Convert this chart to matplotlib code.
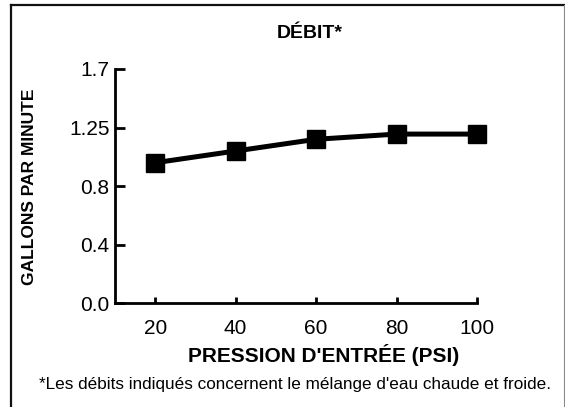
import numpy as np
import matplotlib
matplotlib.use("Agg")
import matplotlib.pyplot as plt
from matplotlib.lines import Line2D

# ---- data ----
pressure_psi = [20, 40, 60, 80, 100]
flow_gpm = [0.98, 1.07, 1.16, 1.20, 1.20]
y_ticks = [0.0, 0.4, 0.8, 1.25, 1.7]
y_tick_labels = ["0.0", "0.4", "0.8", "1.25", "1.7"]
x_ticks = [20, 40, 60, 80, 100]
x_tick_labels = ["20", "40", "60", "80", "100"]

title = "DÉBIT*"
x_label = "PRESSION D'ENTRÉE (PSI)"
y_label = "GALLONS PAR MINUTE"
footnote = "*Les débits indiqués concernent le mélange d'eau chaude et froide."

plt.rcParams['font.family'] = ['Liberation Sans', 'DejaVu Sans']

W, H = 565, 407
fig = plt.figure(figsize=(W / 100, H / 100), dpi=100)
fig.patch.set_facecolor("white")

ax = fig.add_axes([115 / W, 1 - 303.3 / H, (477 - 115) / W, (303.3 - 69) / H])

# piecewise scale: tick values evenly spaced on the axis
idx = np.arange(len(y_ticks), dtype=float)
tv = np.array(y_ticks, dtype=float)
def fwd(v):
    return np.interp(v, tv, idx)
def inv(p):
    return np.interp(p, idx, tv)
ax.set_yscale('function', functions=(fwd, inv))

ax.plot(pressure_psi, flow_gpm, color="black", lw=3.6, marker="s",
        markersize=12.5, markerfacecolor="black", markeredgecolor="black",
        solid_joinstyle="miter", clip_on=False, zorder=3)

ax.set_xlim(10, 100)
ax.set_ylim(0, 1.7)
ax.set_xticks(x_ticks)
ax.set_xticklabels(x_tick_labels)
ax.set_yticks(y_ticks)
ax.set_yticklabels(y_tick_labels)
ax.minorticks_off()

for s in ["top", "right"]:
    ax.spines[s].set_visible(False)
for s in ["left", "bottom"]:
    ax.spines[s].set_linewidth(2.0)
    ax.spines[s].set_color("black")

ax.tick_params(axis="y", direction="in", length=7, width=2, pad=4, labelsize=15)
ax.tick_params(axis="x", direction="in", length=4, width=2, pad=11, labelsize=15)

# texts
fig.text(310 / W, 1 - 33 / H, title, ha="center", va="center",
         fontsize=14, fontweight="bold")
fig.text(30 / W, 1 - 187 / H, y_label, ha="center", va="center",
         rotation=90, fontsize=12.5, fontweight="bold")
fig.text(324 / W, 1 - 355 / H, x_label, ha="center", va="center",
         fontsize=15, fontweight="bold")
fig.text(295 / W, 1 - 385 / H, footnote, ha="center", va="center",
         fontsize=12.3)

# outer frame (left, top, right)
fig.add_artist(Line2D([11 / W, 11 / W], [0, 1 - 5 / H], color="#111111", lw=1.6,
                      transform=fig.transFigure, solid_capstyle="projecting"))
fig.add_artist(Line2D([11 / W, 563.5 / W], [1 - 5 / H, 1 - 5 / H], color="#111111", lw=1.6,
                      transform=fig.transFigure, solid_capstyle="projecting"))
fig.add_artist(Line2D([563.5 / W, 563.5 / W], [0, 1 - 5 / H], color="#888888", lw=0.8,
                      transform=fig.transFigure))

fig.savefig("out.png", dpi=100)
